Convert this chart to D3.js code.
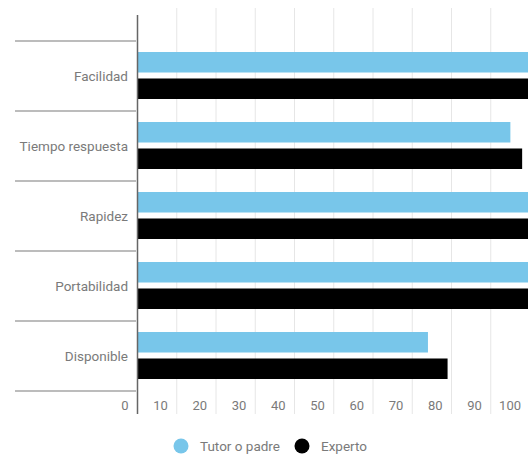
<!DOCTYPE html>
<html>
<head>
<meta charset="utf-8">
<script src="https://cdn.jsdelivr.net/npm/d3@7"></script>
<style>
  html, body { margin: 0; padding: 0; background: #fff; }
  svg { display: block; font-family: Roboto, "Noto Sans", sans-serif; }
</style>
</head>
<body>
<svg id="chart" width="528" height="460"></svg>
<script>
const categories = ["Facilidad", "Tiempo respuesta", "Rapidez", "Portabilidad", "Disponible"];
const seriesNames = ["Tutor o padre", "Experto"];
const tutorValues = [100, 95, 100, 100, 74];
const expertoValues = [100, 98, 100, 100, 79];
const xTicks = [0, 10, 20, 30, 40, 50, 60, 70, 80, 90, 100];
const colors = ["#78c6ea", "#000000"];

const svg = d3.select("#chart");
const x = d3.scaleLinear().domain([0, 100]).range([137.5, 530]);
const y = d3.scaleBand().domain(categories).range([41, 391]).padding(0);
const ySub = d3.scaleBand().domain(seriesNames).range([11, 58]).paddingInner(0.226);
const color = d3.scaleOrdinal().domain(seriesNames).range(colors);

const textColor = "#7a7a7a";

// vertical gridlines
svg.append("g").selectAll("line").data(xTicks.slice(1)).join("line")
  .attr("x1", d => x(d)).attr("x2", d => x(d))
  .attr("y1", 8).attr("y2", 414)
  .attr("stroke", "#e6e6e6").attr("stroke-width", 1);

// category separators on the left
const seps = categories.map(c => y(c)).concat([y.range()[1]]);
svg.append("g").selectAll("line").data(seps).join("line")
  .attr("x1", 15).attr("x2", 136)
  .attr("y1", d => d).attr("y2", d => d)
  .attr("stroke", "#a6a6a6").attr("stroke-width", 1.5);

// bars
const rows = categories.map((c, i) => ({ cat: c, vals: [tutorValues[i], expertoValues[i]] }));
const g = svg.append("g").selectAll("g").data(rows).join("g")
  .attr("transform", d => `translate(0,${y(d.cat)})`);
g.selectAll("rect").data(d => d.vals.map((v, j) => ({ name: seriesNames[j], v })))
  .join("rect")
  .attr("x", x(0))
  .attr("y", d => ySub(d.name))
  .attr("width", d => x(d.v) - x(0))
  .attr("height", ySub.bandwidth())
  .attr("fill", d => color(d.name));

// axis line
svg.append("line")
  .attr("x1", x(0)).attr("x2", x(0)).attr("y1", 15).attr("y2", 414)
  .attr("stroke", "#666").attr("stroke-width", 1.5);

// category labels
svg.append("g").selectAll("text").data(categories).join("text")
  .attr("x", 128)
  .attr("y", d => y(d) + y.bandwidth() / 2)
  .attr("dy", "0.35em")
  .attr("text-anchor", "end")
  .attr("font-size", 13.5)
  .attr("fill", textColor)
  .text(d => d);

// x tick labels
svg.append("g").selectAll("text").data(xTicks).join("text")
  .attr("x", d => x(d) - 9)
  .attr("y", 405)
  .attr("dy", "0.35em")
  .attr("text-anchor", "end")
  .attr("font-size", 13)
  .attr("fill", textColor)
  .text(d => d);

// legend
const legendX = [181, 302];
const lg = svg.append("g").selectAll("g").data(seriesNames).join("g")
  .attr("transform", (d, i) => `translate(${legendX[i]},446)`);
lg.append("circle").attr("r", 7.5).attr("fill", d => color(d));
lg.append("text").attr("x", 19).attr("dy", "0.35em")
  .attr("font-size", 13.5).attr("fill", textColor).text(d => d);
</script>
</body>
</html>
